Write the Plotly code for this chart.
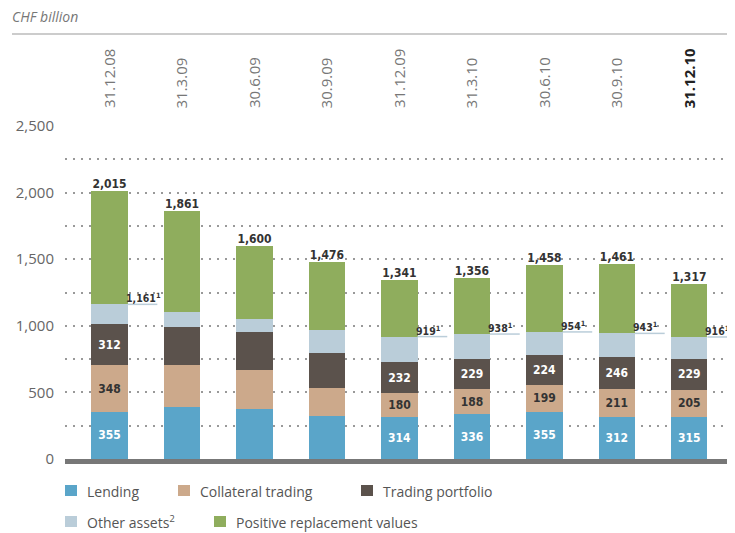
import plotly.graph_objects as go

dates = ["31.12.08", "31.3.09", "30.6.09", "30.9.09", "31.12.09", "31.3.10", "30.6.10", "30.9.10", "31.12.10"]
lending = [355, 389, 372, 320, 314, 336, 355, 312, 315]
collateral = [348, 316, 298, 213, 180, 188, 199, 211, 205]
trading = [312, 285, 285, 261, 232, 229, 224, 246, 229]
other = [146, 111, 96, 173, 193, 185, 176, 174, 167]
prv = [854, 760, 549, 509, 422, 418, 504, 518, 401]
totals = [2015, 1861, 1600, 1476, 1341, 1356, 1458, 1461, 1317]
labelled = [True, False, False, False, True, True, True, True, True]
excl_prv = [1161, None, None, None, 919, 938, 954, 943, 916]

series_names = ["Lending", "Collateral trading", "Trading portfolio", "Other assets<sup>2</sup>", "Positive replacement values"]
colors = ["#5AA5C9", "#CCA98B", "#5B524C", "#BACDD9", "#8FAD5D"]
y_ticks = [0, 500, 1000, 1500, 2000, 2500]

LABEL_FONT = "Liberation Sans Narrow, DejaVu Sans Condensed, Open Sans, sans-serif"
BASE_FONT = "Open Sans, Liberation Sans, sans-serif"

# page offset (browser body margin)
OFF = 8
W, H = 735 - OFF, 533 - OFF
plot_l, plot_r, plot_t, plot_b = 65 - OFF, 735 - OFF, 126 - OFF, 459 - OFF
pw, ph = plot_r - plot_l, plot_b - plot_t


def px_to_paper(px, py):
    """page pixel coords -> paper coords"""
    return (px - OFF - plot_l) / pw, (plot_b - (py - OFF)) / ph


x = list(range(len(dates)))
fig = go.Figure()

series = [lending, collateral, trading, other, prv]
text_colors = ["white", "#333333", "white", "white", "white"]
for k, (vals, name, col) in enumerate(zip(series, series_names, colors)):
    if k < 3:
        txt = [f"{v:,}" if lab else "" for v, lab in zip(vals, labelled)]
    else:
        txt = None
    fig.add_trace(go.Bar(
        x=x, y=vals, name=name, marker=dict(color=col, line=dict(width=0)),
        width=0.5, text=txt, textposition="inside" if txt else "none",
        insidetextanchor="middle", textangle=0, constraintext="none",
        textfont=dict(family=LABEL_FONT, size=12, color=text_colors[k], weight="bold"),
        showlegend=False, hoverinfo="skip",
    ))

fig.add_trace(go.Scatter(
    x=x, y=totals, mode="text", text=[f"{t:,}" for t in totals],
    textposition="top center",
    textfont=dict(family=LABEL_FONT, size=12, color="#333333", weight="bold"),
    showlegend=False, hoverinfo="skip",
))

shapes = []
annotations = []

# footnote reference values (total excl. positive replacement values)
for i, v in enumerate(excl_prv):
    if v is None:
        continue
    shapes.append(dict(type="line", xref="x", yref="y", x0=i + 0.25, x1=i + 0.66, y0=v, y1=v,
                       line=dict(color="#BACDD9", width=1.5), layer="above"))
    annotations.append(dict(x=i + 0.25, y=v, xref="x", yref="y", xanchor="left", yanchor="bottom",
                            text=f"{v:,}<sup style='font-size:7px'>1</sup>", showarrow=False,
                            yshift=-1, xshift=-3, borderpad=0,
                            font=dict(family=LABEL_FONT, size=10.5, color="#333333", weight="bold")))

# date labels on top
for i, d in enumerate(dates):
    last = i == len(dates) - 1
    _, yy = px_to_paper(0, 110)
    annotations.append(dict(x=i, y=yy, xref="x", yref="paper", xanchor="center", yanchor="bottom",
                            text=f"<b>{d}</b>" if last else d, textangle=-90, showarrow=False,
                            font=dict(family=BASE_FONT, size=15, color="#222222" if last else "#777777")))

# header
hx, hy = px_to_paper(10, 17)
annotations.append(dict(x=hx, y=hy, xref="paper", yref="paper", text="<i>CHF billion</i>",
                        showarrow=False, xanchor="left", yanchor="middle",
                        font=dict(family=BASE_FONT, size=14, color="#777777")))

# top separator line
lx0, ly = px_to_paper(12, 34)
shapes.append(dict(type="line", xref="paper", yref="paper", x0=lx0, x1=1, y0=ly, y1=ly,
                   line=dict(color="#CCCCCC", width=2)))

# x axis baseline
_, by = px_to_paper(0, 461.5)
shapes.append(dict(type="line", xref="paper", yref="paper", x0=0, x1=1, y0=by, y1=by,
                   line=dict(color="#777777", width=5), layer="above"))

# legend (manual)
legend_items = [(0, 65, 491), (1, 178, 491), (2, 361, 491), (3, 65, 522), (4, 214, 522)]
for k, px, py in legend_items:
    x0, y0 = px_to_paper(px, py - 6)
    x1, y1 = px_to_paper(px + 12, py + 5)
    shapes.append(dict(type="rect", xref="paper", yref="paper", x0=x0, x1=x1, y0=y1, y1=y0,
                       fillcolor=colors[k], line=dict(width=0)))
    tx, ty = px_to_paper(px + 20, py)
    annotations.append(dict(x=tx, y=ty, xref="paper", yref="paper", xanchor="left", yanchor="middle",
                            text=series_names[k], showarrow=False,
                            font=dict(family=BASE_FONT, size=14, color="#555555")))

fig.update_layout(
    width=W, height=H,
    margin=dict(l=plot_l, r=W - plot_r, t=plot_t, b=H - plot_b),
    paper_bgcolor="white", plot_bgcolor="white",
    barmode="stack", bargap=0.5,
    font=dict(family=BASE_FONT, color="#666666"),
    xaxis=dict(range=[-0.614, 8.63], showticklabels=False, showgrid=False, zeroline=False,
               showline=False, ticks=""),
    yaxis=dict(range=[0, 2500], tickvals=list(range(0, 2501, 250)),
               ticktext=[f"{v:,}" if v in y_ticks else "" for v in range(0, 2501, 250)],
               showgrid=True, gridcolor="#999999", gridwidth=1.5, griddash="2px,6px",
               zeroline=False, showline=False, ticks="", ticklabelstandoff=10,
               tickfont=dict(family=BASE_FONT, size=15, color="#666666")),
    shapes=shapes, annotations=annotations,
)

fig.write_html("out.html")
